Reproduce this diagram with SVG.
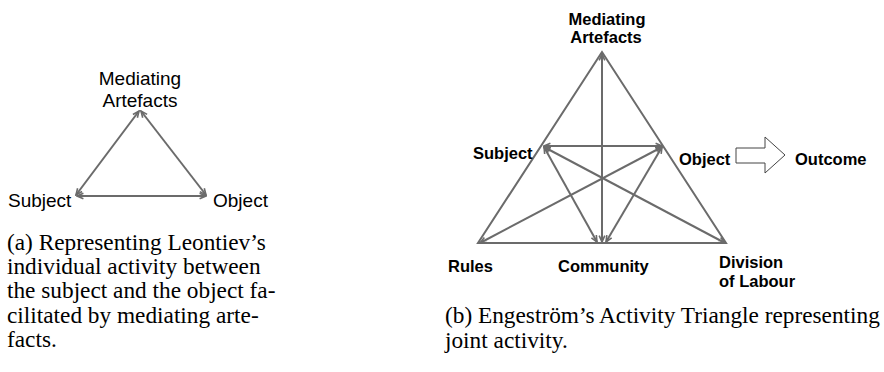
<svg xmlns="http://www.w3.org/2000/svg" width="884" height="372" viewBox="0 0 884 372">
<style>
.lbl{font-family:"Liberation Sans",Arial,sans-serif;font-size:19px;fill:#000}
.blbl{font-family:"Liberation Sans",Arial,sans-serif;font-size:16.5px;font-weight:bold;fill:#000}
.cap{font-family:"Liberation Serif","Times New Roman",serif;font-size:23.3px;fill:#000}
.ln{stroke:#6b6b6b;stroke-width:2;fill:none}
.arr{marker-start:url(#ah);marker-end:url(#ah)}
</style>
<defs>
<marker id="ah" viewBox="0 0 10 10" refX="9" refY="5" markerWidth="8" markerHeight="8" markerUnits="userSpaceOnUse" orient="auto-start-reverse">
<path d="M1,1.5 L9,5 L1,8.5" fill="none" stroke="#6b6b6b" stroke-width="2"/>
</marker>
</defs>
<rect width="884" height="372" fill="#fff"/>

<g id="connectors">
<line class="ln arr" x1="76" y1="195" x2="139" y2="111"/>
<line class="ln arr" x1="141" y1="111" x2="206" y2="195"/>
<line class="ln arr" x1="77" y1="196" x2="206" y2="196"/>
<polygon class="ln" points="602,52 478,243 726,243"/>
<line class="ln arr" x1="602" y1="242" x2="602" y2="54"/>
<line class="ln arr" x1="544" y1="146" x2="662" y2="146"/>
<line class="ln arr" x1="544" y1="147" x2="597" y2="242"/>
<line class="ln arr" x1="544" y1="147" x2="725" y2="243"/>
<line class="ln arr" x1="662" y1="147" x2="480" y2="243"/>
<line class="ln arr" x1="662" y1="147" x2="606" y2="242"/>
<polygon points="736,148 765,148 765,137 785,155 765,173 765,163 736,163" fill="#fff" stroke="#444" stroke-width="1"/>
</g>

<g id="a-mediating"><text class="lbl" x="140" y="85" text-anchor="middle">Mediating</text><text class="lbl" x="140" y="107" text-anchor="middle">Artefacts</text></g>
<g id="a-subject"><text class="lbl" x="8" y="207">Subject</text></g>
<g id="a-object"><text class="lbl" x="213" y="207">Object</text></g>

<g id="b-mediating"><text class="blbl" x="607" y="25" text-anchor="middle">Mediating</text><text class="blbl" x="606" y="43" text-anchor="middle">Artefacts</text></g>
<g id="b-subject"><text class="blbl" x="473" y="159">Subject</text></g>
<g id="b-object"><text class="blbl" x="679" y="165">Object</text></g>
<g id="b-outcome"><text class="blbl" x="795" y="165">Outcome</text></g>
<g id="b-rules"><text class="blbl" x="448" y="272">Rules</text></g>
<g id="b-community"><text class="blbl" x="558" y="272">Community</text></g>
<g id="b-division"><text class="blbl" x="719" y="268">Division</text><text class="blbl" x="719" y="287">of Labour</text></g>

<g id="caption-a">
<text class="cap" x="7" y="250">(a) Representing Leontiev’s</text>
<text class="cap" x="7" y="274">individual activity between</text>
<text class="cap" x="7" y="298">the subject and the object fa-</text>
<text class="cap" x="7" y="323">cilitated by mediating arte-</text>
<text class="cap" x="7" y="347">facts.</text>
</g>
<g id="caption-b">
<text class="cap" x="445" y="323">(b) Engeström’s Activity Triangle representing</text>
<text class="cap" x="445" y="348">joint activity.</text>
</g>
</svg>
